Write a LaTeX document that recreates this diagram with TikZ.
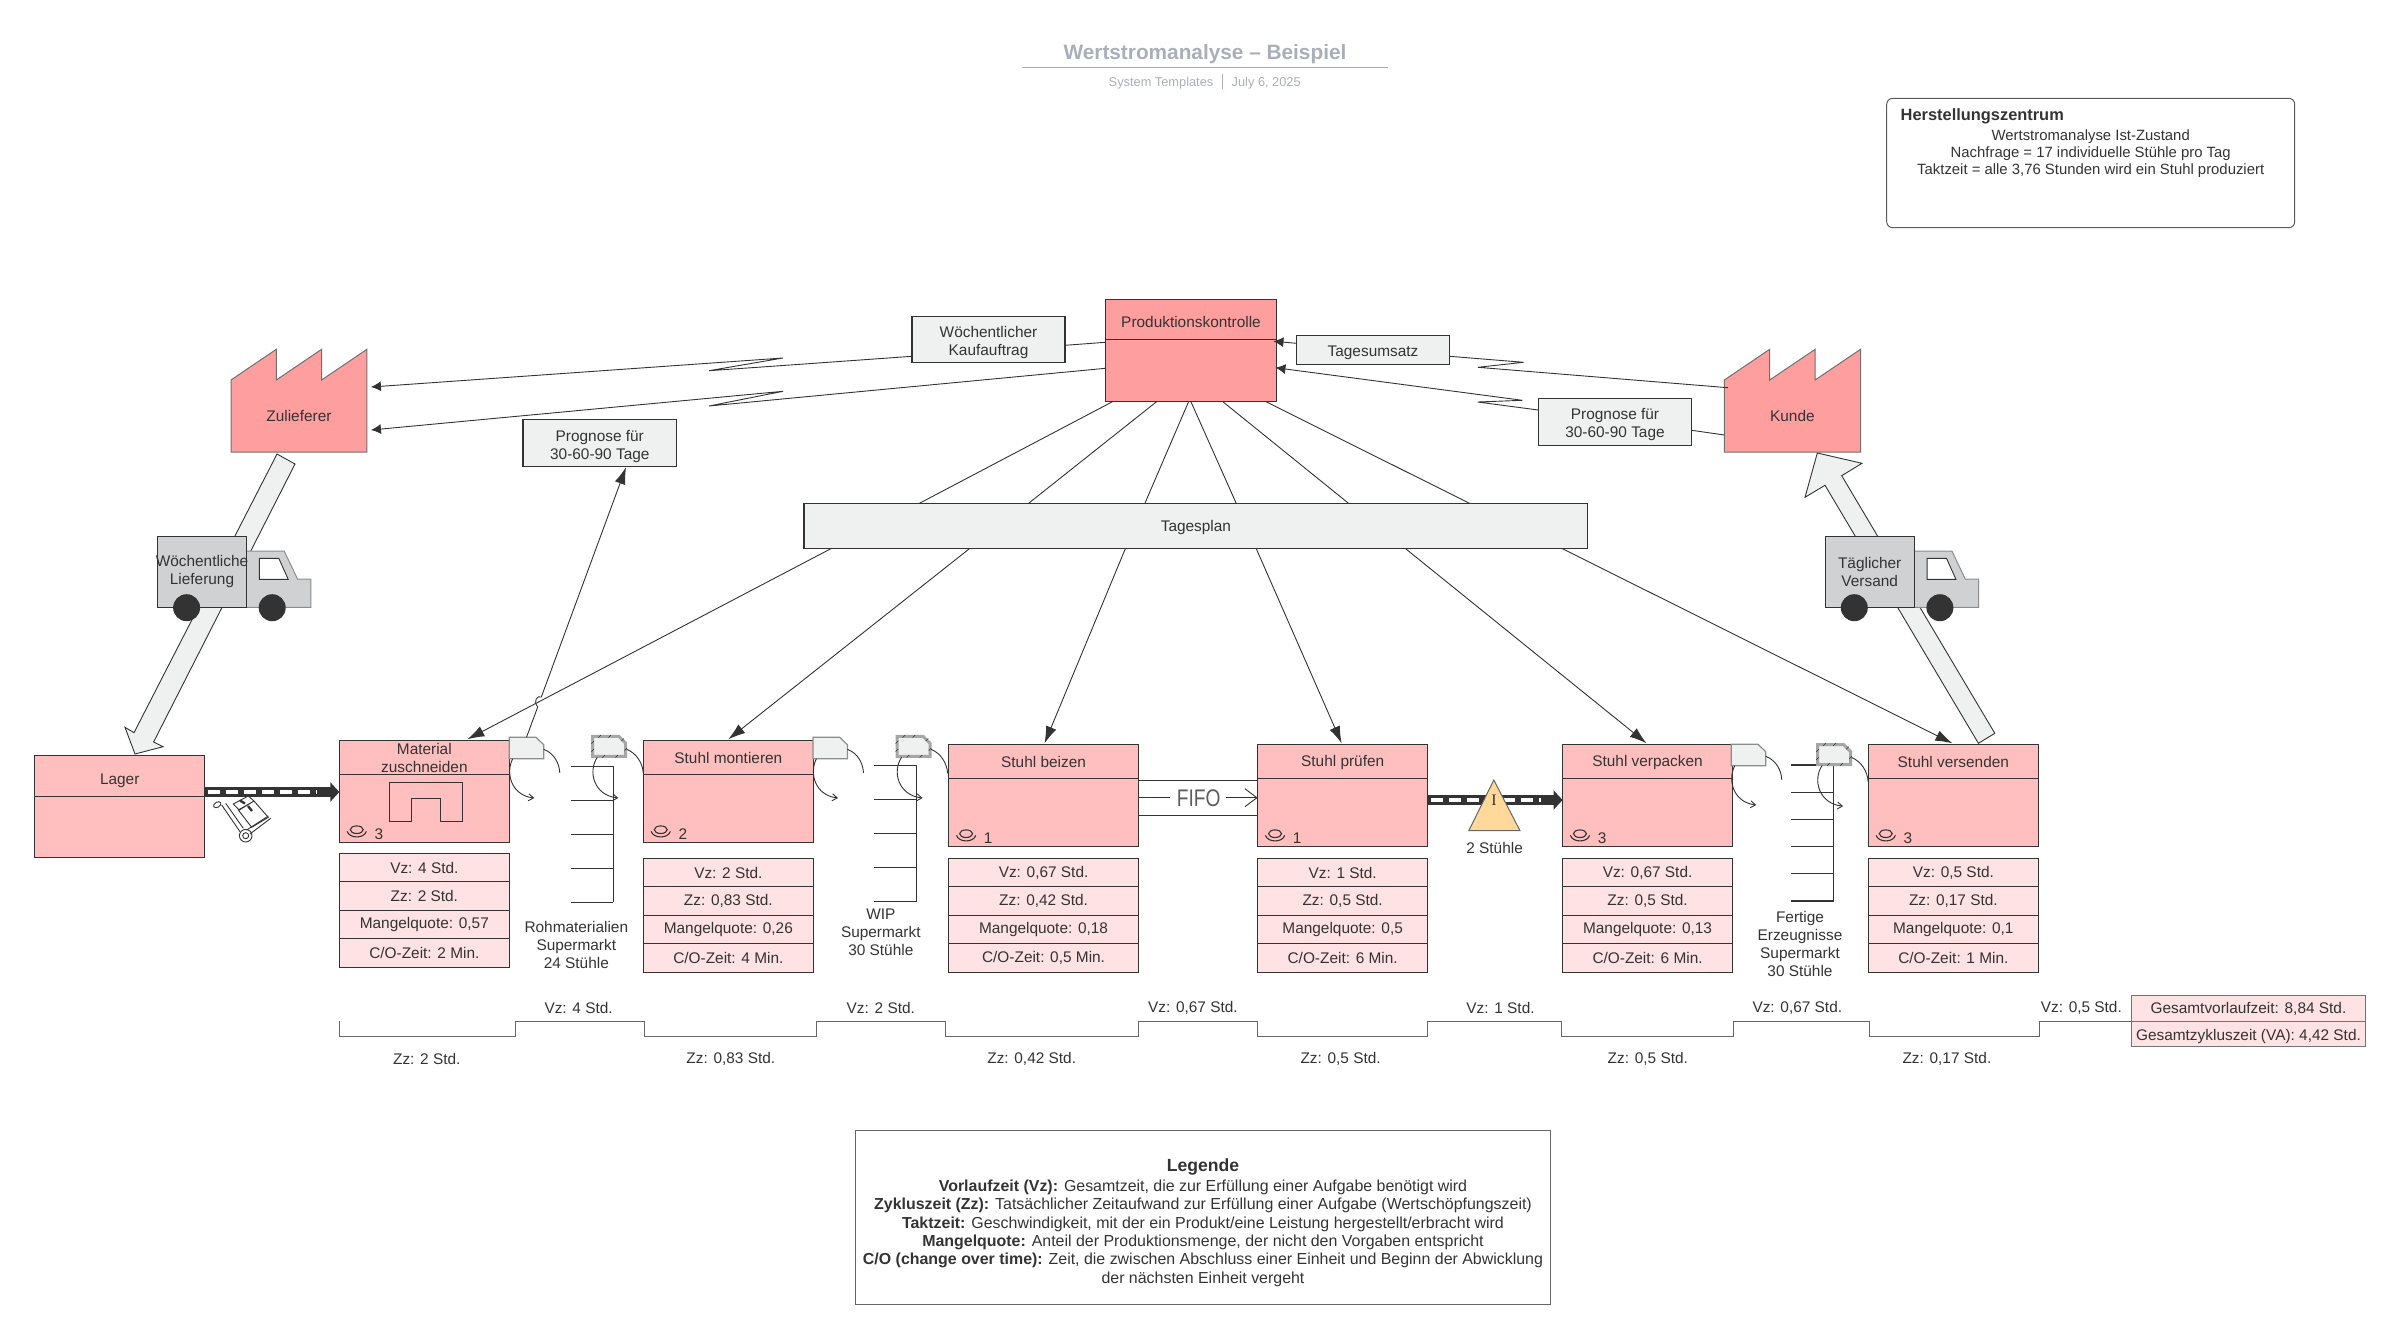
\documentclass[tikz,border=0pt]{standalone}
\usepackage{fontspec}
\setmainfont{Liberation Sans}
\newfontfamily\serifschrift{Liberation Serif}
\newfontfamily\fifoschrift[FakeStretch=0.8]{Liberation Sans}
\usetikzlibrary{positioning,calc,arrows.meta}
\definecolor{tinte}{HTML}{333333}
\definecolor{rotkraeftig}{HTML}{FF9E9E}
\definecolor{rotmittel}{HTML}{FFBFBF}
\definecolor{rothell}{HTML}{FFE2E3}
\definecolor{grauhell}{HTML}{EFF0F0}
\definecolor{graulkw}{HTML}{D0D1D3}
\definecolor{titelgrau}{HTML}{A9AEB9}
\definecolor{bestandgelb}{HTML}{FFD89A}
\newcommand{\tief}[1]{\rule{0pt}{#1pt}}
\tikzset{
	every node/.style={text=tinte,inner sep=0pt,outer sep=0pt,align=center,font=\fontsize{7.7}{9}\selectfont},
	linie/.style={draw=tinte,line width=0.6pt},
	fein/.style={draw=tinte,line width=0.45pt},
	spitze/.style={-{Latex[length=5pt,width=5pt]}},
	grossspitze/.style={-{Latex[length=8.5pt,width=5.5pt]}},
	haken/.style={-{Straight Barb[length=2.5pt,width=3.5pt]}},
	kopf/.style={linie,fill=rotmittel,minimum height=17pt},
	rumpf/.style={linie,fill=rotmittel,minimum height=34pt},
	zeile/.style={linie,fill=rothell,minimum height=14.25pt},
	grauschild/.style={linie,fill=grauhell},
	fabrik/.style={draw=tinte!70,line width=0.5pt,fill=rotkraeftig},
	blockpfeil/.style={fein,fill=grauhell},
	stossbalken/.style={draw=tinte,line width=5pt,-{Triangle[length=4.5pt,width=9.5pt]}},
	stossband/.style={draw=white,line width=2.35pt,dash pattern=on 6pt off 3pt},
	zeitlinie/.style={draw=black!60,line width=0.6pt},
	gesamt/.style={draw=black!55,line width=0.6pt,fill=rothell,minimum width=117.15pt},
}
\begin{document}
\begin{tikzpicture}[x=0.5pt,y=-0.5pt]
\useasboundingbox (0,0) rectangle (2400,1339);

\node[font=\fontsize{10.4}{12}\selectfont\bfseries,text=titelgrau] (titel) at (1205,53.8) {Wertstromanalyse – Beispiel};
\draw[titelgrau,line width=0.6pt] (1022,67.3) -- (1388,67.3);
\node[font=\fontsize{6.4}{7}\selectfont,text=titelgrau,anchor=east] (vorlage) at (1213.3,83.2) {System Templates};
\node[font=\fontsize{6.4}{7}\selectfont,text=titelgrau,anchor=west] (datum) at (1231.7,83.2) {July 6, 2025};
\draw[titelgrau,line width=0.5pt] (1222.3,74.3) -- (1222.3,88.7);

\node[draw=tinte!80,line width=0.5pt,rounded corners=3pt,minimum width=204pt,minimum height=64.7pt] (zentrum) at (2090.7,163) {};
\node[anchor=west,font=\fontsize{8.2}{9}\selectfont\bfseries] (zentrumtitel) at (1900.7,116.5) {Herstellungszentrum};
\node[anchor=north,font=\fontsize{7.44}{8.5}\selectfont] (zentrumtext) at (2090.7,130) {Wertstromanalyse Ist-Zustand\\Nachfrage = 17 individuelle Stühle pro Tag\\Taktzeit = alle 3,76 Stunden wird ein Stuhl produziert};

% Fabriken
\foreach \nm/\x/\w/\txt in {zul/231/45.3/Zulieferer,kunde/1724.3/45.4/Kunde}{
	\draw[fabrik] (\x,380) -- (\x+\w,349.3) -- (\x+\w,380) -- (\x+2*\w,349.3) -- (\x+2*\w,380) -- (\x+3*\w,349.3) -- (\x+3*\w,452) -- (\x,452) -- cycle;
	\node[minimum width=68pt,minimum height=36pt] (\nm) at (\x+1.5*\w,416) {\txt};
}

\node[linie,fill=rotkraeftig,minimum width=85.45pt,minimum height=20pt] (kprod) at (1191,319.3) {\tief{8.6}Produktionskontrolle};
\node[linie,fill=rotkraeftig,minimum width=85.45pt,minimum height=31pt,below=0pt of kprod] (rprod) {};
\node[grauschild,minimum width=76.5pt,minimum height=23.2pt] (kauf) at (988.5,339.5) {\tief{8.6}Wöchentlicher\\Kaufauftrag};
\node[grauschild,minimum width=76.75pt,minimum height=23.7pt] (prognoselinks) at (599.8,443) {\tief{8.6}Prognose für\\30-60-90 Tage};
\node[grauschild,minimum width=76.55pt,minimum height=14.5pt] (umsatz) at (1373,349.8) {\tief{8.6}Tagesumsatz};
\node[grauschild,minimum width=76.7pt,minimum height=23.5pt] (prognoserechts) at (1615,421.8) {\tief{8.6}Prognose für\\30-60-90 Tage};
\node[grauschild,minimum width=391.9pt,minimum height=22.5pt] (plan) at (1195.9,525.8) {\tief{7.1}Tagesplan};

\draw[fein,spitze] ($(kauf.west)+(0,16.8)$) -- (800,364.3) -- (709,370.7) -- (783,358) -- ($(zul.east)+(4,-29)$);
\draw[fein] ($(rprod.north west)+(0,3)$) -- ($(kauf.east)+(0,5.8)$);
\draw[fein,spitze] ($(rprod.west)+(0,-2)$) -- (800,397.3) -- (709,406) -- (783,391.3) -- ($(zul.east)+(4,14)$);
\draw[fein,spitze] ($(umsatz.west)+(0,-6.5)$) -- ($(rprod.north east)+(-3,2)$);
\draw[fein] ($(kunde.west)+(3.4,-28.3)$) -- (1478,367.3) -- (1523.5,362.3) -- ($(umsatz.east)+(0,6.5)$);
\draw[fein,spitze] ($(prognoserechts.west)+(0,-11.8)$) -- (1477.6,402) -- (1522.4,400.3) -- ($(rprod.east)+(-1,-2.6)$);
\draw[fein] ($(kunde.west)+(0,19)$) -- ($(prognoserechts.east)+(0,8.5)$);

\foreach \a/\b in {7.7/115.4,51.5/224.6,83.2/340.9,85.2/432.2,116.8/544.5,159.7/665.4}
	\draw[fein] ($(rprod.south west)+(\a,0)$) -- ($(plan.north west)+(\b,0)$);

% Prozesse
\foreach \nm/\x/\b/\y/\d/\txt/\anz/\vz/\zz/\mq/\co in {
	mat/424.35/85/740.3/853.3/{Material\\zuschneiden}/3/4/2/{0,57}/2,
	mon/728.35/85/740.3/858.3/Stuhl montieren/2/2/{0,83}/{0,26}/4,
	bei/1043.55/94.85/744.3/858.3/Stuhl beizen/1/{0,67}/{0,42}/{0,18}/{0,5},
	pru/1342.65/85/744.3/858.3/Stuhl prüfen/1/1/{0,5}/{0,5}/6,
	ver/1647.55/85/744.3/858.3/Stuhl verpacken/3/{0,67}/{0,5}/{0,13}/6,
	vers/1953.35/85/744.3/858.3/Stuhl versenden/3/{0,5}/{0,17}/{0,1}/1}{
	\node[kopf,minimum width=\b pt] (k\nm) at (\x,\y+17) {\tief{6.6}\txt};
	\node[rumpf,minimum width=\b pt,below=0pt of k\nm] (r\nm) {};
	\node[zeile,minimum width=\b pt,anchor=north] (vz\nm) at (\x,\d) {Vz: \vz\ Std.};
	\node[zeile,minimum width=\b pt,below=0pt of vz\nm] (zz\nm) {Zz: \zz\ Std.};
	\node[zeile,minimum width=\b pt,below=0pt of zz\nm] (mq\nm) {Mangelquote: \mq};
	\node[zeile,minimum width=\b pt,below=0pt of mq\nm] (co\nm) {C/O-Zeit: \co\ Min.};
	\draw[fein,line width=0.55pt] ($(r\nm.south west)+(17.4,-12.6)$) ellipse (6.5 and 3.8);
	\draw[fein,line width=0.55pt] ($(r\nm.south west)+(7.8,-11)$) .. controls ($(r\nm.south west)+(10,-3.5)$) and ($(r\nm.south west)+(25,-3.5)$) .. ($(r\nm.south west)+(27,-11)$);
	\node (anz\nm) at ($(r\nm.south west)+(39.5,-8)$) {\anz};
}
\draw[fein,line width=0.55pt] (389.3,821.7) -- (389.3,782.3) -- (462.7,782.3) -- (462.7,821.7) -- (440.7,821.7) -- (440.7,798.3) -- (411.3,798.3) -- (411.3,821.7) -- cycle;

\node[linie,fill=rotmittel,minimum width=85pt,minimum height=20.5pt] (klager) at (119.7,775.8) {\tief{10.1}Lager};
\node[linie,fill=rotmittel,minimum width=85pt,minimum height=30.5pt,below=0pt of klager] (rlager) {};

% Blockpfeile und LKW
\draw[blockpfeil] (277,454) -- (295,464) -- (153.6,742) -- (163,746.7) -- (135,754) -- (125,727.3) -- (134,732.7) -- cycle;
\draw[blockpfeil] (1978.4,743.3) -- (1994.8,733.3) -- (1841.7,475.7) -- (1862,463.3) -- (1817.3,453) -- (1805,497.3) -- (1825,485.3) -- cycle;
\foreach \nm/\x/\txt in {liefer/157.6/{\makebox[0pt]{Wöchentliche}\\Lieferung},versand/1825.3/{Täglicher\\Versand}}{
	\draw[draw=black!45,line width=0.5pt,fill=graulkw] (\x+88.8,551) -- (\x+126.6,551) -- (\x+139.9,579) -- (\x+153.3,579) -- (\x+153.3,607.3) -- (\x+88.8,607.3) -- cycle;
	\draw[fein,fill=white] (\x+101.8,558.3) -- (\x+121.2,558.3) -- (\x+130.6,579.3) -- (\x+101.8,579.3) -- cycle;
	\node[linie,fill=graulkw,minimum width=44.4pt,minimum height=35.5pt] (\nm) at (\x+44.4,571.8) {\txt};
	\fill[tinte] (\x+29,607.7) circle (13.5);
	\fill[tinte] (\x+114.6,607.7) circle (13.5);
}

% Stossbalken
\draw[stossbalken] ($(rlager.north east)+(0,-4.3)$) -- ($(rmat.west)+(0,-16.3)$);
\draw[stossband,shorten >=11pt] ($(rlager.north east)+(3,-4.3)$) -- ($(rmat.west)+(0,-16.3)$);
\draw[stossbalken] ($(rpru.east)+(0,-12.3)$) -- ($(rver.west)+(0,-12.3)$);
\draw[stossband,shorten >=11pt] ($(rpru.east)+(3,-12.3)$) -- ($(rver.west)+(0,-12.3)$);
\draw[draw=black!60,line width=0.5pt,fill=bestandgelb] (1493.8,780) -- (1520,830.7) -- (1468.8,830.7) -- cycle;
\node[font=\fontsize{8}{9}\selectfont\serifschrift] (bestand) at (1494,800) {I};
\node (bestandtext) at (1494.6,848) {2 Stühle};

% Sackkarre
\draw[tinte,line width=0.45pt] (245.7,835.7) circle (6.3) (245.7,835.7) circle (3);
\draw[tinte,line width=0.45pt,rotate around={30:(217.3,804.7)}] (217.3,804.7) ellipse (4 and 2.6);
\draw[tinte,line width=0.45pt] (221.7,805) -- (240,831.7) (225.7,803.3) -- (243.3,828.3) (250,834) -- (270.7,818.3) (246.7,830) -- (268.3,816);
\draw[tinte,line width=0.45pt] (238.3,810) -- (254,801) -- (268.3,817.3) -- (251.7,827.3) -- cycle (233.3,804) -- (248.3,796) -- (254,801) -- (239.3,810) -- cycle;
\draw[tinte,line width=1.2pt] (240,800.5) -- (245,803.5) (248,806) -- (252,811);

% FIFO
\node[font=\fontsize{12}{14}\selectfont\fifoschrift,text=tinte!80] (fifo) at (1198.7,798) {FIFO};
\draw[fein] ($(rbei.east)+(0,-32)$) -- ($(rpru.west)+(0,-32)$);
\draw[fein] ($(rbei.east)+(0,3)$) -- ($(rpru.west)+(0,3)$);
\draw[fein] ($(rbei.east)+(0,-14.6)$) -- (1170,797.7);
\draw[fein,-{Straight Barb[length=6pt,width=9pt]}] (1226,797.7) -- ($(rpru.west)+(0,-14.6)$);

% Supermaerkte
\foreach \x/\l/\y/\s/\n in {613.3/42.3/766.3/34/4,916.5/42.5/765.3/34/4,1833.5/42.5/765/27.2/5}{
	\draw[fein,line width=0.55pt] (\x,\y) -- (\x,\y+\n*\s);
	\foreach \i in {0,...,\n}
		\draw[fein,line width=0.55pt] (\x-\l,\y+\i*\s) -- (\x,\y+\i*\s);
}
\node (rohtext) at (576.3,945) {Rohmaterialien\\Supermarkt\\24 Stühle};
\node (wiptext) at (880.8,932) {WIP\\Supermarkt\\30 Stühle};
\node (fertigtext) at (1800,944) {Fertige\\Erzeugnisse\\Supermarkt\\30 Stühle};

% Karten
\foreach \x/\y in {509.3/737.3,813/737.3,1731.3/744.3}{
	\draw[draw=black!45,line width=0.6pt,fill=grauhell] (\x,\y) -- (\x+26.7,\y) -- (\x+34.4,\y+7.4) -- (\x+34.4,\y+21.4) -- (\x,\y+21.4) -- cycle;
	\draw[fein] (\x+34.4,\y+12) .. controls (\x+45,\y+16) and (\x+50,\y+26) .. (\x+50.5,\y+35.6);
	\draw[fein,haken] (\x+3.4,\y+21.4) .. controls (\x-4,\y+36) and (\x+2,\y+58) .. (\x+25,\y+60.7);
}
\foreach \x/\y in {591.7/735.3,896/735.3,1816.5/743.5}{
	\draw[draw=black!35,line width=1.5pt,fill=grauhell] (\x+1,\y+1) -- (\x+27,\y+1) -- (\x+34,\y+8) -- (\x+34,\y+21) -- (\x+1,\y+21) -- cycle;
	\foreach \u/\v in {8/1,18/1,31/4.5,34/14,25/21,12/21,1/15,1/7}
		\draw[draw=tinte,line width=0.3pt] (\x+\u-1.3,\y+\v+1.3) -- (\x+\u+1.3,\y+\v-1.3);
	\draw[fein] (\x+35,\y+14) .. controls (\x+45,\y+18) and (\x+51,\y+28) .. (\x+51.6,\y+38);
	\draw[fein,haken] (\x+5.6,\y+22) .. controls (\x-4,\y+36) and (\x+2,\y+60) .. (\x+26.6,\y+62.7);
}
\draw[fein,grossspitze] (526.5,737.3) -- (537.7,707) .. controls (533,701) and (537,695) .. (541.3,697) -- ($(prognoselinks.south)+(26.2,0.5)$);

\foreach \a/\ziel/\v in {27.6/kmat/43,165.9/kmon/0,321.5/kbei/1,452.1/kpru/-1,601.1/kver/-1,757.7/kvers/-1}
	\draw[fein,grossspitze] ($(plan.south west)+(\a,0)$) -- ($(\ziel.north)+(\v,-1)$);

% Zeitlinie
\node[gesamt,minimum height=13pt] (gesvor) at (2248.45,1008.3) {\tief{6.6}Gesamtvorlaufzeit: 8,84 Std.};
\node[gesamt,minimum height=12.5pt,below=0pt of gesvor] (gesyk) {\tief{8.6}Gesamtzykluszeit (VA): 4,42 Std.};
\draw[zeitlinie] (339.3,1021.3) -- (339.3,1036.3) -- (515.6,1036.3) -- (515.6,1021.3) -- (644.6,1021.3) -- (644.6,1036.3) -- (816.5,1036.3) -- (816.5,1021.3) -- (945.5,1021.3) -- (945.5,1036.3) -- (1138.4,1036.3) -- (1138.4,1021.3) -- (1257.6,1021.3) -- (1257.6,1036.3) -- (1427.7,1036.3) -- (1427.7,1021.3) -- (1561.6,1021.3) -- (1561.6,1036.3) -- (1733.5,1036.3) -- (1733.5,1021.3) -- (1869.6,1021.3) -- (1869.6,1036.3) -- (2039.3,1036.3) -- (2039.3,1021.3) -- (gesvor.south west);
\foreach \x/\t [count=\i] in {578.6/4,880.8/2,1192.9/{0,67},1500.5/1,1797.3/{0,67},2081.3/{0,5}}
	\node (zeitvz\i) at (\x,1007.7) {Vz: \t\ Std.};
\foreach \x/\t [count=\i] in {426.8/2,730.8/{0,83},1031.7/{0,42},1340.6/{0,5},1647.8/{0,5},1946.9/{0,17}}
	\node (zeitzz\i) at (\x,1058.7) {Zz: \t\ Std.};

% Legende
\node[draw=black!60,line width=0.6pt,minimum width=347.4pt,minimum height=87pt] (legende) at (1203,1217.3) {};
\node[font=\fontsize{8.8}{10}\selectfont\bfseries] (legendetitel) at (1203,1167) {Legende};
\node[anchor=north,font=\fontsize{7.97}{9.15}\selectfont] (legendetext) at (1203,1180) {\textbf{Vorlaufzeit (Vz):} Gesamtzeit, die zur Erfüllung einer Aufgabe benötigt wird\\
	\textbf{Zykluszeit (Zz):} Tatsächlicher Zeitaufwand zur Erfüllung einer Aufgabe (Wertschöpfungszeit)\\
	\textbf{Taktzeit:} Geschwindigkeit, mit der ein Produkt/eine Leistung hergestellt/erbracht wird\\
	\textbf{Mangelquote:} Anteil der Produktionsmenge, der nicht den Vorgaben entspricht\\
	\textbf{C/O (change over time):} Zeit, die zwischen Abschluss einer Einheit und Beginn der Abwicklung\\
	der nächsten Einheit vergeht};
\end{tikzpicture}
\end{document}
